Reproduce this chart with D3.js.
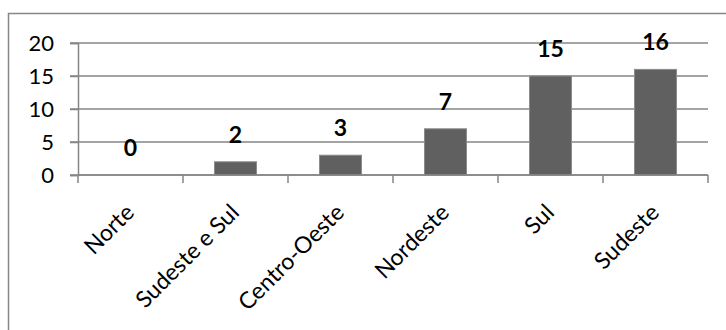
<!DOCTYPE html>
<html>
<head>
<meta charset="utf-8">
<script src="https://cdn.jsdelivr.net/npm/d3@7"></script>
<style>
  body { margin: 0; background: #fff; }
  svg { display: block; font-family: Lato, "Open Sans", sans-serif; }
</style>
</head>
<body>
<div id="chart"></div>
<script>
var categories = ["Norte", "Sudeste e Sul", "Centro-Oeste", "Nordeste", "Sul", "Sudeste"];
var values = [0, 2, 3, 7, 15, 16];
var yTicks = [0, 5, 10, 15, 20];

var W = 726, H = 330;
var margin = { top: 43, right: 18, bottom: 155, left: 78 },
    width = W - margin.left - margin.right,
    height = H - margin.top - margin.bottom;

var root = d3.select("#chart").append("svg")
    .attr("width", W)
    .attr("height", H);

// outer chart border (runs off the right / bottom edge)
root.append("rect")
    .attr("x", 8.5).attr("y", 13.5)
    .attr("width", 740).attr("height", 340)
    .attr("fill", "none")
    .attr("stroke", "#868686")
    .attr("stroke-width", 1.5);

var svg = root.append("g")
    .attr("transform", "translate(" + margin.left + "," + margin.top + ")");

var x = d3.scaleBand().domain(categories).range([0, width])
    .paddingInner(0.6).paddingOuter(0.3);
var y = d3.scaleLinear().domain([0, 20]).range([height, 0]);

// gridlines
svg.selectAll(".grid")
    .data(yTicks)
    .enter()
    .append("line")
    .attr("class", "grid")
    .attr("x1", -8).attr("x2", width)
    .attr("y1", function (d) { return y(d); })
    .attr("y2", function (d) { return y(d); })
    .attr("stroke", "#868686")
    .attr("stroke-width", 1.5);

// y axis
var yAxis = svg.append("g")
    .call(d3.axisLeft(y).tickValues(yTicks).tickSize(8).tickPadding(16));
yAxis.select(".domain").attr("stroke", "#868686").attr("stroke-width", 1.5);
yAxis.selectAll(".tick line").attr("stroke", "#868686").attr("stroke-width", 1.5);
yAxis.selectAll("text")
    .style("font-size", "22px")
    .style("font-family", "Lato, sans-serif")
    .attr("fill", "#000");

// bars
svg.selectAll(".bar")
    .data(values)
    .enter()
    .append("rect")
    .attr("class", "bar")
    .attr("x", function (d, i) { return x(categories[i]); })
    .attr("width", x.bandwidth())
    .attr("y", function (d) { return y(d); })
    .attr("height", function (d) { return height - y(d); })
    .attr("fill", "#606060")
    .attr("stroke", "#8c8c8c")
    .attr("stroke-width", 1);

// x axis with ticks between categories
var bounds = d3.range(categories.length + 1).map(function (i) { return i * width / categories.length; });
svg.append("line")
    .attr("x1", 0).attr("x2", width)
    .attr("y1", height).attr("y2", height)
    .attr("stroke", "#868686")
    .attr("stroke-width", 1.5);
svg.selectAll(".xtick")
    .data(bounds)
    .enter()
    .append("line")
    .attr("class", "xtick")
    .attr("x1", function (d) { return d; })
    .attr("x2", function (d) { return d; })
    .attr("y1", height).attr("y2", height + 8)
    .attr("stroke", "#868686")
    .attr("stroke-width", 1.5);

// category labels, rotated
svg.selectAll(".x-label")
    .data(categories)
    .enter()
    .append("text")
    .attr("class", "x-label")
    .attr("text-anchor", "end")
    .attr("transform", function (d) {
        var cx = x(d) + x.bandwidth() / 2 + 5;
        return "translate(" + cx + "," + (height + 39) + ") rotate(-45)";
    })
    .style("font-size", "23px")
    .text(function (d) { return d; });

// value labels
svg.selectAll(".val")
    .data(values)
    .enter()
    .append("text")
    .attr("class", "val")
    .attr("x", function (d, i) { return x(categories[i]) + x.bandwidth() / 2; })
    .attr("y", function (d) { return y(d) - 19; })
    .attr("text-anchor", "middle")
    .style("font-size", "23px")
    .style("font-weight", "bold")
    .text(function (d) { return d; });
</script>
</body>
</html>
